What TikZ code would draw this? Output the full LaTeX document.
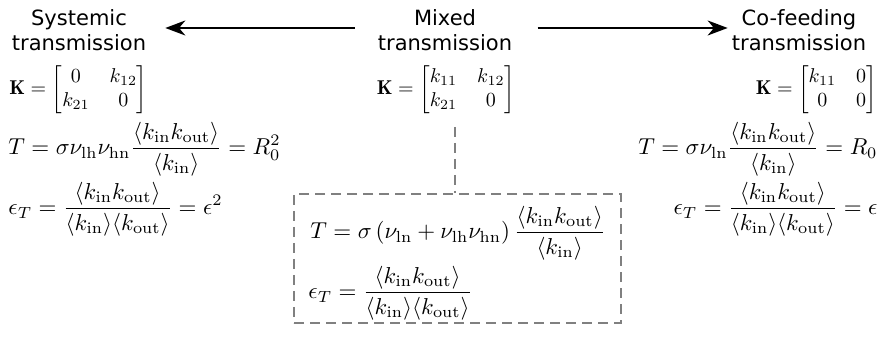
\documentclass[tikz,border=0pt]{standalone}
\usepackage{amsmath}
\usepackage{fontspec}
\newfontfamily\titlefont{DejaVu Sans}
\usetikzlibrary{arrows.meta}
\definecolor{boxgray}{RGB}{128,128,128}
\begin{document}
\begin{tikzpicture}[x=0.4pt,y=-0.4pt,
  ttl/.style={font=\titlefont\fontsize{8.4}{10.2}\selectfont, align=center, inner sep=0pt},
  eq/.style={inner sep=0pt, scale=0.92},
  mat/.style={inner sep=0pt, scale=0.8},
  arr/.style={line width=0.8pt, -{Stealth[length=8pt,width=6pt,inset=2.5pt]}},
  dashbox/.style={draw=boxgray, line width=0.8pt, dash pattern=on 4pt off 2.4pt}]
\useasboundingbox (0,0) rectangle (882,337);
% titles
\node[ttl] (sys) at (79,30) {Systemic\\transmission};
\node[ttl] (mix) at (445,30) {Mixed\\transmission};
\node[ttl] (cof) at (799,30) {Co-feeding\\transmission};
\draw[arr, shorten <=9pt, shorten >=7.5pt] ([yshift=0.8pt]mix.west) -- ([yshift=0.8pt]sys.east);
\draw[arr, shorten <=10pt, shorten >=1.5pt] ([yshift=0.8pt]mix.east) -- ([yshift=0.8pt]cof.west);
% matrices
\node[mat, anchor=west] (Ks) at (9,90) {$\mathbf{K}=\begin{bmatrix}0 & k_{12}\\ k_{21} & 0\end{bmatrix}$};
\node[mat] (Km) at (446,90) {$\mathbf{K}=\begin{bmatrix}k_{11} & k_{12}\\ k_{21} & 0\end{bmatrix}$};
\node[mat, anchor=east] (Kc) at (877,90) {$\mathbf{K}=\begin{bmatrix}k_{11} & 0\\ 0 & 0\end{bmatrix}$};
% left equations
\node[eq, anchor=west] (Ts) at (8,149) {$\displaystyle T=\sigma\nu_{\mathrm{lh}}\nu_{\mathrm{hn}}\frac{\langle k_{\mathrm{in}}k_{\mathrm{out}}\rangle}{\langle k_{\mathrm{in}}\rangle}=R_0^2$};
\node[eq, anchor=west] (Es) at (8,209) {$\displaystyle \epsilon_T=\frac{\langle k_{\mathrm{in}}k_{\mathrm{out}}\rangle}{\langle k_{\mathrm{in}}\rangle\langle k_{\mathrm{out}}\rangle}=\epsilon^2$};
% right equations
\node[eq, anchor=east] (Tc) at (878,149) {$\displaystyle T=\sigma\nu_{\mathrm{ln}}\frac{\langle k_{\mathrm{in}}k_{\mathrm{out}}\rangle}{\langle k_{\mathrm{in}}\rangle}=R_0$};
\node[eq, anchor=east] (Ec) at (878,209) {$\displaystyle \epsilon_T=\frac{\langle k_{\mathrm{in}}k_{\mathrm{out}}\rangle}{\langle k_{\mathrm{in}}\rangle\langle k_{\mathrm{out}}\rangle}=\epsilon$};
% mixed box
\node[dashbox, anchor=north west, minimum width=130.8pt, minimum height=51.6pt, inner sep=0pt] (box) at (293,193) {};
\node[eq, anchor=west] (Tm) at (310,233) {$\displaystyle T=\sigma\left(\nu_{\mathrm{ln}}+\nu_{\mathrm{lh}}\nu_{\mathrm{hn}}\right)\frac{\langle k_{\mathrm{in}}k_{\mathrm{out}}\rangle}{\langle k_{\mathrm{in}}\rangle}$};
\node[eq, anchor=west] (Em) at (308,293) {$\displaystyle \epsilon_T=\frac{\langle k_{\mathrm{in}}k_{\mathrm{out}}\rangle}{\langle k_{\mathrm{in}}\rangle\langle k_{\mathrm{out}}\rangle}$};
\coordinate (vtop) at (455,127);
\draw[dashbox] (vtop) -- (vtop |- box.north);
\end{tikzpicture}
\end{document}
